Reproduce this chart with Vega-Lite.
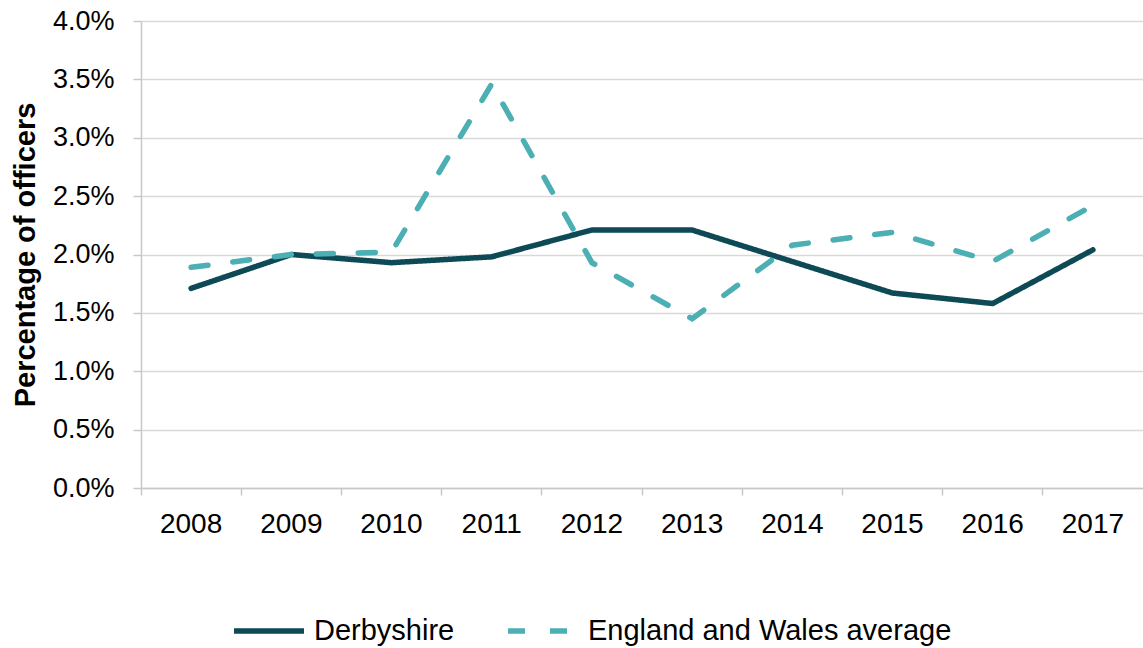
{
  "$schema": "https://vega.github.io/schema/vega-lite/v6.json",
  "width": 1002,
  "height": 467,
  "autosize": "none",
  "padding": {"left": 141, "top": 21, "right": 0, "bottom": 160},
  "background": "white",
  "config": {
    "view": {"stroke": null},
    "font": "Liberation Sans"
  },
  "data": {
    "values": [
      {"year": "2008", "series": "Derbyshire", "value": 0.0171},
      {"year": "2009", "series": "Derbyshire", "value": 0.0200},
      {"year": "2010", "series": "Derbyshire", "value": 0.0193},
      {"year": "2011", "series": "Derbyshire", "value": 0.0198},
      {"year": "2012", "series": "Derbyshire", "value": 0.0221},
      {"year": "2013", "series": "Derbyshire", "value": 0.0221},
      {"year": "2014", "series": "Derbyshire", "value": 0.0194},
      {"year": "2015", "series": "Derbyshire", "value": 0.0167},
      {"year": "2016", "series": "Derbyshire", "value": 0.0158},
      {"year": "2017", "series": "Derbyshire", "value": 0.0204},
      {"year": "2008", "series": "England and Wales average", "value": 0.0189},
      {"year": "2009", "series": "England and Wales average", "value": 0.0200},
      {"year": "2010", "series": "England and Wales average", "value": 0.0202},
      {"year": "2011", "series": "England and Wales average", "value": 0.0346},
      {"year": "2012", "series": "England and Wales average", "value": 0.0193},
      {"year": "2013", "series": "England and Wales average", "value": 0.0145},
      {"year": "2014", "series": "England and Wales average", "value": 0.0208},
      {"year": "2015", "series": "England and Wales average", "value": 0.0219},
      {"year": "2016", "series": "England and Wales average", "value": 0.0194},
      {"year": "2017", "series": "England and Wales average", "value": 0.0242}
    ]
  },
  "mark": {"type": "line", "strokeWidth": 5.5, "strokeCap": "round", "strokeJoin": "miter"},
  "encoding": {
    "x": {
      "field": "year",
      "type": "ordinal",
      "scale": {"type": "band", "paddingInner": 0, "paddingOuter": 0},
      "axis": {
        "title": null,
        "labelAngle": 0,
        "bandPosition": 0,
        "labelFontSize": 28,
        "labelColor": "#000000",
        "labelPadding": 15,
        "tickSize": 7,
        "tickColor": "#c8c8c8",
        "tickWidth": 1.5,
        "domainColor": "#c8c8c8",
        "domainWidth": 1.5,
        "grid": false
      }
    },
    "y": {
      "field": "value",
      "type": "quantitative",
      "scale": {"domain": [0, 0.04], "nice": false},
      "axis": {
        "title": "Percentage of officers",
        "titleFontSize": 29,
        "titleFontWeight": "bold",
        "titleColor": "#000000",
        "titlePadding": 12,
        "values": [0, 0.005, 0.01, 0.015, 0.02, 0.025, 0.03, 0.035, 0.04],
        "format": ".1%",
        "labelFontSize": 27,
        "labelColor": "#000000",
        "labelPadding": 19,
        "tickSize": 8,
        "tickColor": "#c8c8c8",
        "tickWidth": 1.5,
        "domainColor": "#c8c8c8",
        "domainWidth": 1.5,
        "grid": true,
        "gridColor": "#d9d9d9",
        "gridWidth": 1.5
      }
    },
    "color": {
      "field": "series",
      "type": "nominal",
      "scale": {"domain": ["Derbyshire", "England and Wales average"], "range": ["#0d4a55", "#4bafb4"]},
      "legend": {
        "title": null,
        "orient": "none",
        "legendX": 90,
        "legendY": 572,
        "direction": "horizontal",
        "symbolType": "stroke",
        "symbolSize": 4900,
        "symbolStrokeWidth": 5.5,
        "labelFontSize": 29,
        "labelColor": "#000000",
        "labelOffset": 7,
        "columnPadding": 42,
        "labelLimit": 600
      }
    },
    "strokeDash": {
      "field": "series",
      "type": "nominal",
      "scale": {"domain": ["Derbyshire", "England and Wales average"], "range": [[1, 0], [17, 25]]},
      "legend": {
        "title": null,
        "orient": "none",
        "legendX": 90,
        "legendY": 572,
        "direction": "horizontal",
        "symbolType": "stroke",
        "symbolSize": 4900,
        "symbolStrokeWidth": 5.5,
        "labelFontSize": 29,
        "labelColor": "#000000",
        "labelOffset": 7,
        "columnPadding": 42,
        "labelLimit": 600
      }
    }
  }
}
